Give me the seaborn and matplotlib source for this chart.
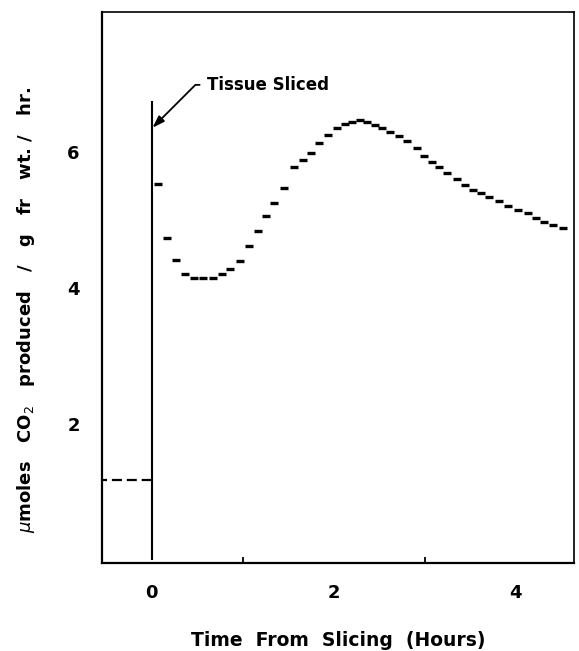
import matplotlib.pyplot as plt
import matplotlib.ticker as mticker
import pandas as pd
import seaborn as sns

sns.set_theme(style="white")
plt.rcParams["font.family"] = ["DejaVu Sans"]
plt.rcParams["mathtext.fontset"] = "dejavusans"
plt.rcParams["text.color"] = "black"

# hours after slicing, CO2 output (umoles / g fr wt / hr)
hours = [0.07, 0.17, 0.27, 0.37, 0.47, 0.57, 0.67, 0.77, 0.86, 0.97,
         1.07, 1.17, 1.26, 1.35, 1.46, 1.56, 1.66, 1.75, 1.84, 1.94,
         2.04, 2.12, 2.20, 2.29, 2.37, 2.45, 2.53, 2.62, 2.72, 2.81,
         2.91, 2.99, 3.08, 3.16, 3.25, 3.35, 3.44, 3.53, 3.62, 3.71,
         3.82, 3.91, 4.02, 4.13, 4.22, 4.31, 4.41, 4.52]
rate = [5.53, 4.73, 4.41, 4.21, 4.15, 4.15, 4.15, 4.21, 4.28, 4.40,
        4.62, 4.83, 5.05, 5.25, 5.47, 5.77, 5.87, 5.98, 6.12, 6.24,
        6.34, 6.40, 6.43, 6.47, 6.43, 6.39, 6.34, 6.29, 6.23, 6.15,
        6.05, 5.93, 5.85, 5.78, 5.69, 5.60, 5.51, 5.44, 5.39, 5.34,
        5.28, 5.20, 5.14, 5.10, 5.03, 4.97, 4.92, 4.88]
pre_hours = [-0.6, 0.0]
pre_rate = [1.18, 1.18]
slice_time = 0.0
slice_line_top = 6.75
arrow_at = 6.35

df = pd.DataFrame({"hours": hours, "rate": rate})
pre = pd.DataFrame({"hours": pre_hours, "rate": pre_rate})

fig = plt.figure(figsize=(5.79, 6.51), dpi=100)
ax = fig.add_axes([0.1762, 0.1352, 0.8152, 0.8464])

sns.scatterplot(data=df, x="hours", y="rate", marker="_", s=40, linewidth=2.4,
                color="black", ax=ax, legend=False)
sns.lineplot(data=pre, x="hours", y="rate", color="black", lw=1.6,
             dashes=[(4.5, 2.2)], style=[0, 0], legend=False, ax=ax)
ax.vlines(slice_time, 0, slice_line_top, color="black", lw=1.5)

ax.annotate("Tissue Sliced", xy=(slice_time + 0.01, arrow_at), xytext=(0.61, 6.98),
            va="center", ha="left", fontsize=12, fontweight="bold", color="black",
            arrowprops=dict(arrowstyle="-|>,head_length=0.6,head_width=0.2",
                            connectionstyle="angle,angleA=0,angleB=45,rad=0",
                            relpos=(0, 0.5), shrinkA=3, shrinkB=0,
                            lw=1.3, color="black"))

ax.set_xlim(-0.544, 4.64)
ax.set_ylim(-0.04, 8.05)
ax.xaxis.set_major_locator(mticker.FixedLocator([0, 2, 4]))
ax.xaxis.set_minor_locator(mticker.FixedLocator([1, 3]))
ax.yaxis.set_major_locator(mticker.FixedLocator([2, 4, 6]))
ax.tick_params(axis="both", which="major", direction="in", length=8, width=1.3,
               color="black", labelsize=13, labelcolor="black")
ax.tick_params(axis="x", which="major", pad=15)
ax.tick_params(axis="y", which="major", pad=16)
ax.tick_params(axis="x", which="minor", direction="in", length=4, width=1.3,
               color="black", bottom=True)
for lab in ax.get_xticklabels() + ax.get_yticklabels():
    lab.set_fontweight("bold")

for side in ["left", "bottom", "top", "right"]:
    ax.spines[side].set_color("black")
ax.spines["left"].set_linewidth(1.6)
ax.spines["bottom"].set_linewidth(1.6)
ax.spines["top"].set_linewidth(1.2)
ax.spines["right"].set_linewidth(1.2)

ax.set_xlabel("Time  From  Slicing  (Hours)", fontsize=13.5, fontweight="bold",
              labelpad=21, color="black")
ax.set_ylabel(r"$\mu$moles   CO$_2$   produced   /   g   fr   wt. /   hr.",
              fontsize=13, fontweight="bold", labelpad=22, color="black", y=0.46)

fig.savefig("out.png", dpi=100)
